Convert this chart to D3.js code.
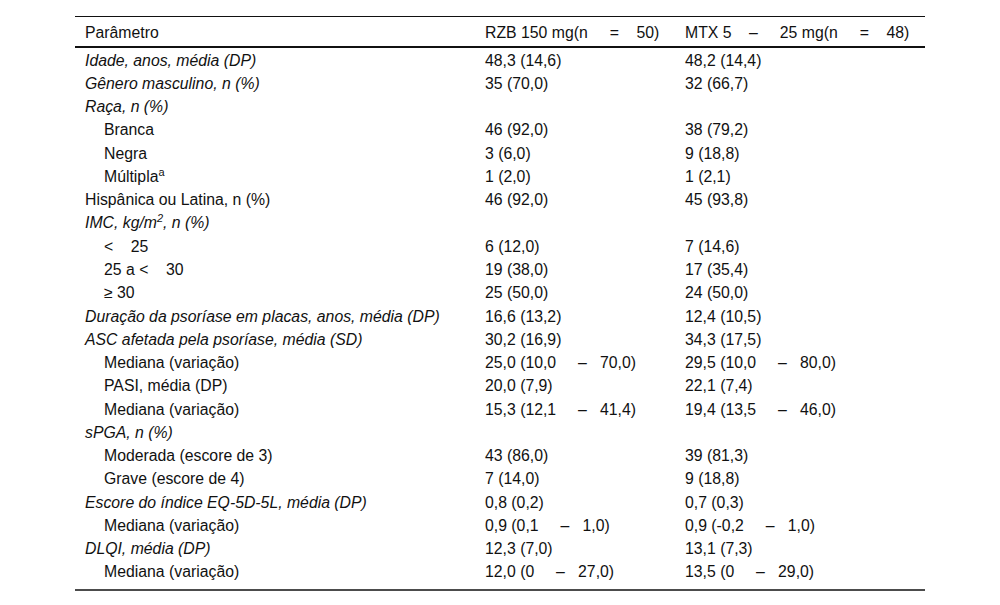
<!DOCTYPE html>
<html>
<head>
<meta charset="utf-8">
<script src="https://cdn.jsdelivr.net/npm/d3@7"></script>
<style>
  body { margin: 0; background: #fff; }
  svg text { font-family: "Liberation Sans", Arial, sans-serif; font-size: 15.8px; fill: #111; white-space: pre; }
</style>
</head>
<body>
<svg id="table"></svg>
<script>
// header cells
const headers = ["Parâmetro", "RZB 150 mg(n     =    50)", "MTX 5    –     25 mg(n     =    48)"];

// row labels ("^" marks a superscript part)
const labels = [
  "Idade, anos, média (DP)",
  "Gênero masculino, n (%)",
  "Raça, n (%)",
  "Branca",
  "Negra",
  "Múltipla^a",
  "Hispânica ou Latina, n (%)",
  "IMC, kg/m^2^, n (%)",
  "<    25",
  "25 a <    30",
  "≥ 30",
  "Duração da psoríase em placas, anos, média (DP)",
  "ASC afetada pela psoríase, média (SD)",
  "Mediana (variação)",
  "PASI, média (DP)",
  "Mediana (variação)",
  "sPGA, n (%)",
  "Moderada (escore de 3)",
  "Grave (escore de 4)",
  "Escore do índice EQ-5D-5L, média (DP)",
  "Mediana (variação)",
  "DLQI, média (DP)",
  "Mediana (variação)"
];

// row kind: g = group heading, s = sub item, p = plain top level
const kinds = ["g","g","g","s","s","s","p","g","s","s","s","g","g","s","s","s","g","s","s","g","s","g","s"];

const rzb = [
  "48,3 (14,6)", "35 (70,0)", "", "46 (92,0)", "3 (6,0)", "1 (2,0)", "46 (92,0)", "",
  "6 (12,0)", "19 (38,0)", "25 (50,0)", "16,6 (13,2)", "30,2 (16,9)",
  "25,0 (10,0     –   70,0)", "20,0 (7,9)", "15,3 (12,1     –   41,4)", "",
  "43 (86,0)", "7 (14,0)", "0,8 (0,2)", "0,9 (0,1     –   1,0)", "12,3 (7,0)",
  "12,0 (0     –   27,0)"
];

const mtx = [
  "48,2 (14,4)", "32 (66,7)", "", "38 (79,2)", "9 (18,8)", "1 (2,1)", "45 (93,8)", "",
  "7 (14,6)", "17 (35,4)", "24 (50,0)", "12,4 (10,5)", "34,3 (17,5)",
  "29,5 (10,0     –   80,0)", "22,1 (7,4)", "19,4 (13,5     –   46,0)", "",
  "39 (81,3)", "9 (18,8)", "0,7 (0,3)", "0,9 (-0,2     –   1,0)", "13,1 (7,3)",
  "13,5 (0     –   29,0)"
];

const width = 1000, height = 605;
const left = 75, right = 925;

const svg = d3.select("#table").attr("width", width).attr("height", height);

const y = d3.scaleBand().domain(d3.range(labels.length)).range([48.5, 583.5]);
const x = d3.scaleOrdinal().domain([0, 1, 2]).range([85, 485, 685]);
const indent = 19;

// rules
svg.append("line").attr("x1", left).attr("x2", right).attr("y1", 16.5).attr("y2", 16.5)
  .attr("stroke", "#111").attr("stroke-width", 1);
svg.append("line").attr("x1", left).attr("x2", right).attr("y1", 47).attr("y2", 47)
  .attr("stroke", "#111").attr("stroke-width", 2);
svg.append("line").attr("x1", left).attr("x2", right).attr("y1", 590).attr("y2", 590)
  .attr("stroke", "#111").attr("stroke-width", 1.5);

// header
svg.append("g").selectAll("text").data(headers).join("text")
  .attr("x", (d, i) => x(i)).attr("y", 32).attr("dy", "0.35em")
  .text(d => d);

function addLabel(sel, s) {
  // split on ^ : odd pieces are superscripts
  s.split("^").forEach((part, i) => {
    if (!part) return;
    const t = sel.append("tspan").text(part);
    if (i % 2 === 1) t.attr("baseline-shift", "super").style("font-size", "11px");
  });
}

const rows = svg.append("g").selectAll("g").data(labels).join("g")
  .attr("transform", (d, i) => "translate(0," + (y(i) + y.bandwidth() / 2) + ")");

rows.append("text")
  .attr("x", (d, i) => kinds[i] === "s" ? x(0) + indent : x(0))
  .attr("dy", "0.35em")
  .style("font-style", (d, i) => kinds[i] === "g" ? "italic" : "normal")
  .each(function (d) { addLabel(d3.select(this), d); });

rows.append("text").attr("x", x(1)).attr("dy", "0.35em").text((d, i) => rzb[i]);
rows.append("text").attr("x", x(2)).attr("dy", "0.35em").text((d, i) => mtx[i]);
</script>
</body>
</html>
